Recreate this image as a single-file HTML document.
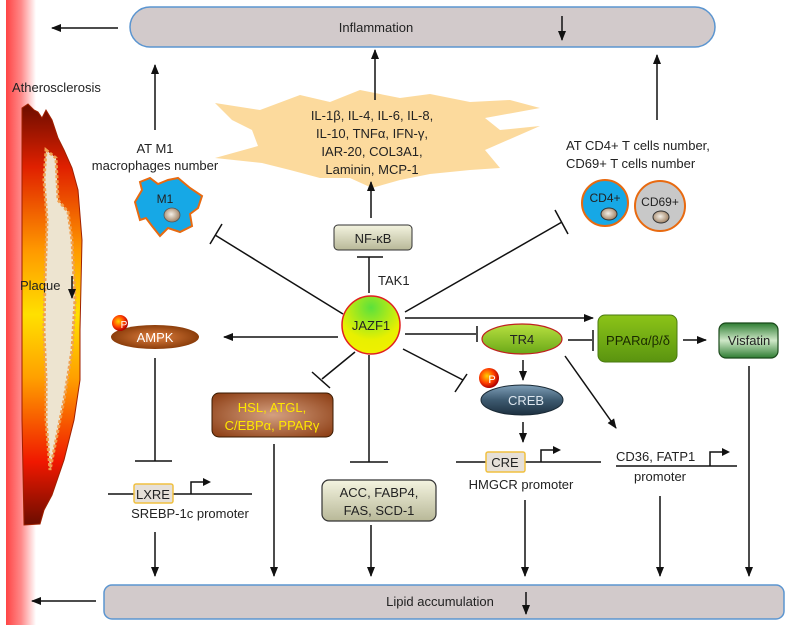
<!DOCTYPE html>
<html><head><meta charset="utf-8"><style>
html,body{margin:0;padding:0;background:#fff}
svg{display:block}
text{font-family:"Liberation Sans",Arial,sans-serif;fill:#222}
</style></head><body>
<svg width="789" height="625" viewBox="0 0 789 625" xmlns="http://www.w3.org/2000/svg">
<defs>
<marker id="a" markerWidth="10" markerHeight="10" refX="9" refY="5" orient="auto" markerUnits="userSpaceOnUse"><path d="M0,1 L10,5 L0,9 z" fill="#111"/></marker>
<linearGradient id="strip" x1="0" x2="1"><stop offset="0" stop-color="#f44"/><stop offset="0.5" stop-color="#f88"/><stop offset="1" stop-color="#fff"/></linearGradient>
<linearGradient id="plq" x1="0" y1="0" x2="0" y2="1"><stop offset="0" stop-color="#6b0d00"/><stop offset="0.15" stop-color="#e02000"/><stop offset="0.35" stop-color="#ff9a00"/><stop offset="0.5" stop-color="#ffe000"/><stop offset="0.65" stop-color="#ffa000"/><stop offset="0.85" stop-color="#f01800"/><stop offset="1" stop-color="#6b0d00"/></linearGradient>
<radialGradient id="jz" cx="0.5" cy="0.2" r="0.8"><stop offset="0" stop-color="#5be13c"/><stop offset="0.7" stop-color="#e8f000"/><stop offset="1" stop-color="#f0f000"/></radialGradient>
<linearGradient id="tr" x1="0" y1="0" x2="0" y2="1"><stop offset="0" stop-color="#b8e040"/><stop offset="1" stop-color="#6aa818"/></linearGradient>
<linearGradient id="pp" x1="0" y1="0" x2="0" y2="1"><stop offset="0" stop-color="#8cc418"/><stop offset="1" stop-color="#5a9410"/></linearGradient>
<linearGradient id="vf" x1="0" y1="0" x2="0" y2="1"><stop offset="0" stop-color="#2e7d32"/><stop offset="0.5" stop-color="#cfe8c8"/><stop offset="1" stop-color="#2e7d32"/></linearGradient>
<radialGradient id="hsl" cx="0.5" cy="0.5" r="0.7"><stop offset="0" stop-color="#d4a080"/><stop offset="1" stop-color="#8a3a10"/></radialGradient>
<radialGradient id="ampk" cx="0.5" cy="0.5" r="0.6"><stop offset="0" stop-color="#e08040"/><stop offset="1" stop-color="#7a3000"/></radialGradient>
<linearGradient id="creb" x1="0" y1="0" x2="0" y2="1"><stop offset="0" stop-color="#7f9fb8"/><stop offset="0.5" stop-color="#3d5a70"/><stop offset="1" stop-color="#1d3040"/></linearGradient>
<linearGradient id="box" x1="0" y1="0" x2="0" y2="1"><stop offset="0" stop-color="#f4f4e0"/><stop offset="1" stop-color="#b8b898"/></linearGradient>
<radialGradient id="p" cx="0.4" cy="0.4" r="0.6"><stop offset="0" stop-color="#ffd000"/><stop offset="0.6" stop-color="#ff4000"/><stop offset="1" stop-color="#b00000"/></radialGradient>
<radialGradient id="nuc" cx="0.45" cy="0.45" r="0.6"><stop offset="0" stop-color="#f4f0e8"/><stop offset="1" stop-color="#9a7a5a"/></radialGradient>
</defs>

<rect x="6" y="0" width="30" height="625" fill="url(#strip)"/>
<path d="M22,108 L28,104 L34,110 L38,112 L42,118 L46,110 L52,120 L58,138 L64,150 L72,168 L78,190 L82,240 L80,330 L80,380 L74,420 L64,460 L52,495 L44,510 L40,524 L24,525 L22,420 Z" fill="url(#plq)" stroke="#a02000" stroke-width="1"/>
<path d="M46,150 L56,158 L58,200 L68,212 L72,240 L75,300 L72,350 L64,400 L56,440 L50,470 L46,420 L46,380 L44,330 L45,280 L47,220 L44,180 Z" fill="#ede4d0" stroke="#f0a050" stroke-width="3" stroke-dasharray="3,2"/>
<text x="12" y="92" font-size="13">Atherosclerosis</text>
<text x="20" y="290" font-size="13">Plaque</text>
<line x1="72" y1="276" x2="72" y2="298" stroke="#111" stroke-width="1.5" marker-end="url(#a)"/>

<rect x="130" y="7" width="585" height="40" rx="20" fill="#d2cacb" stroke="#5b95d0" stroke-width="1.5"/>
<text x="376" y="32" font-size="13" text-anchor="middle">Inflammation</text>
<line x1="562" y1="16" x2="562" y2="40" stroke="#111" stroke-width="1.5" marker-end="url(#a)"/>
<line x1="118" y1="28" x2="52" y2="28" stroke="#111" stroke-width="1.5" marker-end="url(#a)"/>

<rect x="104" y="585" width="680" height="34" rx="8" fill="#d2cacb" stroke="#5b95d0" stroke-width="1.5"/>
<text x="440" y="606" font-size="13" text-anchor="middle">Lipid accumulation</text>
<line x1="526" y1="592" x2="526" y2="614" stroke="#111" stroke-width="1.5" marker-end="url(#a)"/>
<line x1="96" y1="601" x2="32" y2="601" stroke="#111" stroke-width="1.5" marker-end="url(#a)"/>

<line x1="155" y1="130" x2="155" y2="65" stroke="#111" stroke-width="1.5" marker-end="url(#a)"/>
<text x="155" y="153" font-size="13" text-anchor="middle">AT M1</text>
<text x="155" y="170" font-size="13" text-anchor="middle">macrophages number</text>
<path d="M135,202 L142,190 L140,182 L150,178 L158,184 L168,180 L178,178 L190,188 L202,196 L198,208 L190,214 L192,226 L180,232 L168,228 L160,236 L152,226 L146,218 L140,220 Z" fill="#16a8e6" stroke="#e86a10" stroke-width="2"/>
<text x="165" y="203" font-size="12" text-anchor="middle">M1</text>
<ellipse cx="172" cy="215" rx="8" ry="7" fill="url(#nuc)" stroke="#555" stroke-width="0.8"/>

<path d="M215,103 L260,110 L300,95 L330,102 L360,90 L400,98 L430,94 L470,102 L510,100 L540,108 L485,118 L500,130 L540,126 L485,150 L500,168 L470,170 L430,174 L400,180 L372,188 L350,178 L320,178 L290,170 L262,163 L215,158 L258,146 L252,130 L232,120 Z" fill="#fcd48c" opacity="0.85"/>
<g font-size="13" text-anchor="middle">
<text x="372" y="120">IL-1β, IL-4, IL-6, IL-8,</text>
<text x="372" y="138">IL-10, TNFα, IFN-γ,</text>
<text x="372" y="156">IAR-20, COL3A1,</text>
<text x="372" y="174">Laminin, MCP-1</text>
</g>
<line x1="375" y1="100" x2="375" y2="50" stroke="#111" stroke-width="1.5" marker-end="url(#a)"/>

<line x1="371" y1="218" x2="371" y2="182" stroke="#111" stroke-width="1.5" marker-end="url(#a)"/>
<rect x="334" y="225" width="78" height="25" rx="4" fill="url(#box)" stroke="#333" stroke-width="1"/>
<text x="373" y="243" font-size="13" text-anchor="middle">NF-κB</text>
<line x1="369" y1="293" x2="369" y2="257" stroke="#111" stroke-width="1.5"/>
<line x1="357" y1="257" x2="383" y2="257" stroke="#111" stroke-width="1.5"/>
<text x="378" y="285" font-size="13">TAK1</text>

<line x1="657" y1="120" x2="657" y2="55" stroke="#111" stroke-width="1.5" marker-end="url(#a)"/>
<text x="566" y="150" font-size="13">AT CD4+ T cells number,</text>
<text x="566" y="168" font-size="13">CD69+ T cells number</text>
<circle cx="605" cy="203" r="23" fill="#16a8e6" stroke="#e86a10" stroke-width="2"/>
<text x="605" y="202" font-size="12" text-anchor="middle">CD4+</text>
<ellipse cx="609" cy="214" rx="8" ry="6" fill="url(#nuc)" stroke="#333" stroke-width="1"/>
<circle cx="660" cy="206" r="25" fill="#c8c8c8" stroke="#e86a10" stroke-width="2"/>
<text x="660" y="206" font-size="12" text-anchor="middle">CD69+</text>
<ellipse cx="661" cy="217" rx="8" ry="6" fill="url(#nuc)" stroke="#333" stroke-width="1"/>

<g stroke="#111" stroke-width="1.5" fill="none">
<line x1="343" y1="314" x2="215" y2="235"/><line x1="210" y1="244" x2="222" y2="224"/>
<line x1="405" y1="312" x2="562" y2="222"/><line x1="555" y1="210" x2="568" y2="234"/>
<line x1="405" y1="318" x2="593" y2="318" marker-end="url(#a)"/>
<line x1="405" y1="334" x2="476" y2="334"/><line x1="477" y1="326" x2="477" y2="342"/>
<line x1="568" y1="340" x2="592" y2="340"/><line x1="593" y1="330" x2="593" y2="351"/>
<line x1="683" y1="340" x2="706" y2="340" marker-end="url(#a)"/>
<line x1="403" y1="349" x2="463" y2="380"/><line x1="455" y1="392" x2="467" y2="374"/>
<line x1="338" y1="337" x2="224" y2="337" marker-end="url(#a)"/>
<line x1="355" y1="352" x2="322" y2="379"/><line x1="312" y1="372" x2="330" y2="388"/>
<line x1="369" y1="355" x2="369" y2="462"/><line x1="350" y1="462" x2="388" y2="462"/>
<line x1="155" y1="358" x2="155" y2="461"/><line x1="135" y1="461" x2="172" y2="461"/>
<line x1="523" y1="360" x2="523" y2="380" marker-end="url(#a)"/>
<line x1="523" y1="422" x2="523" y2="442" marker-end="url(#a)"/>
<line x1="565" y1="356" x2="616" y2="428" marker-end="url(#a)"/>
<line x1="749" y1="366" x2="749" y2="576" marker-end="url(#a)"/>
<line x1="660" y1="496" x2="660" y2="576" marker-end="url(#a)"/>
<line x1="525" y1="500" x2="525" y2="576" marker-end="url(#a)"/>
<line x1="371" y1="525" x2="371" y2="576" marker-end="url(#a)"/>
<line x1="274" y1="444" x2="274" y2="576" marker-end="url(#a)"/>
<line x1="155" y1="532" x2="155" y2="576" marker-end="url(#a)"/>
<line x1="456" y1="462" x2="601" y2="462"/>
<polyline points="541,462 541,450 553,450"/>
<line x1="616" y1="466" x2="737" y2="466"/>
<polyline points="710,466 710,452 722,452"/>
<line x1="108" y1="494" x2="252" y2="494"/>
<polyline points="191,494 191,482 203,482"/>
</g>
<path d="M553,446 L561,450 L553,454 Z" fill="#111"/>
<path d="M722,448 L730,452 L722,456 Z" fill="#111"/>
<path d="M203,478 L211,482 L203,486 Z" fill="#111"/>

<circle cx="371" cy="325" r="29" fill="url(#jz)" stroke="#e02020" stroke-width="1.5"/>
<text x="371" y="330" font-size="13" text-anchor="middle">JAZF1</text>

<ellipse cx="522" cy="339" rx="40" ry="15" fill="url(#tr)" stroke="#c02020" stroke-width="1.2"/>
<text x="522" y="344" font-size="13" text-anchor="middle">TR4</text>
<rect x="598" y="315" width="79" height="47" rx="7" fill="url(#pp)" stroke="#4a7a10" stroke-width="1"/>
<text x="638" y="345" font-size="13" text-anchor="middle" style="fill:#1a2a00">PPARα/β/δ</text>
<rect x="719" y="323" width="59" height="35" rx="7" fill="url(#vf)" stroke="#1b4a1b" stroke-width="1.2"/>
<text x="749" y="345" font-size="13" text-anchor="middle">Visfatin</text>

<ellipse cx="522" cy="400" rx="41" ry="15" fill="url(#creb)" stroke="#1a2a35" stroke-width="1"/>
<text x="526" y="405" font-size="13" text-anchor="middle" style="fill:#dde6ee">CREB</text>
<circle cx="489" cy="378" r="10" fill="url(#p)"/>
<text x="492" y="383" font-size="11" text-anchor="middle" style="fill:#fff">P</text>

<rect x="486" y="452" width="39" height="20" rx="2" fill="#e6e0d8" stroke="#f0c040" stroke-width="1.5"/>
<text x="505" y="467" font-size="13" text-anchor="middle">CRE</text>
<text x="521" y="489" font-size="13" text-anchor="middle">HMGCR promoter</text>
<text x="616" y="461" font-size="13">CD36, FATP1</text>
<text x="660" y="481" font-size="13" text-anchor="middle">promoter</text>

<ellipse cx="155" cy="337" rx="44" ry="12" fill="url(#ampk)"/>
<text x="155" y="342" font-size="13" text-anchor="middle" style="fill:#fff">AMPK</text>
<circle cx="120" cy="323" r="8" fill="url(#p)"/>
<text x="124" y="328" font-size="10" text-anchor="middle" style="fill:#fff">P</text>

<rect x="134" y="484" width="39" height="19" rx="2" fill="#e6e0d8" stroke="#f0c040" stroke-width="1.5"/>
<text x="153" y="499" font-size="13" text-anchor="middle">LXRE</text>
<text x="190" y="518" font-size="13" text-anchor="middle">SREBP-1c promoter</text>

<rect x="212" y="393" width="121" height="44" rx="7" fill="url(#hsl)" stroke="#3a1a00" stroke-width="1"/>
<text x="272" y="412" font-size="13" text-anchor="middle" style="fill:#ffe800">HSL, ATGL,</text>
<text x="272" y="430" font-size="13" text-anchor="middle" style="fill:#ffe800">C/EBPα, PPARγ</text>

<rect x="322" y="480" width="114" height="41" rx="7" fill="url(#box)" stroke="#333" stroke-width="1.2"/>
<text x="379" y="497" font-size="13" text-anchor="middle">ACC, FABP4,</text>
<text x="379" y="515" font-size="13" text-anchor="middle">FAS, SCD-1</text>
</svg>
</body></html>
